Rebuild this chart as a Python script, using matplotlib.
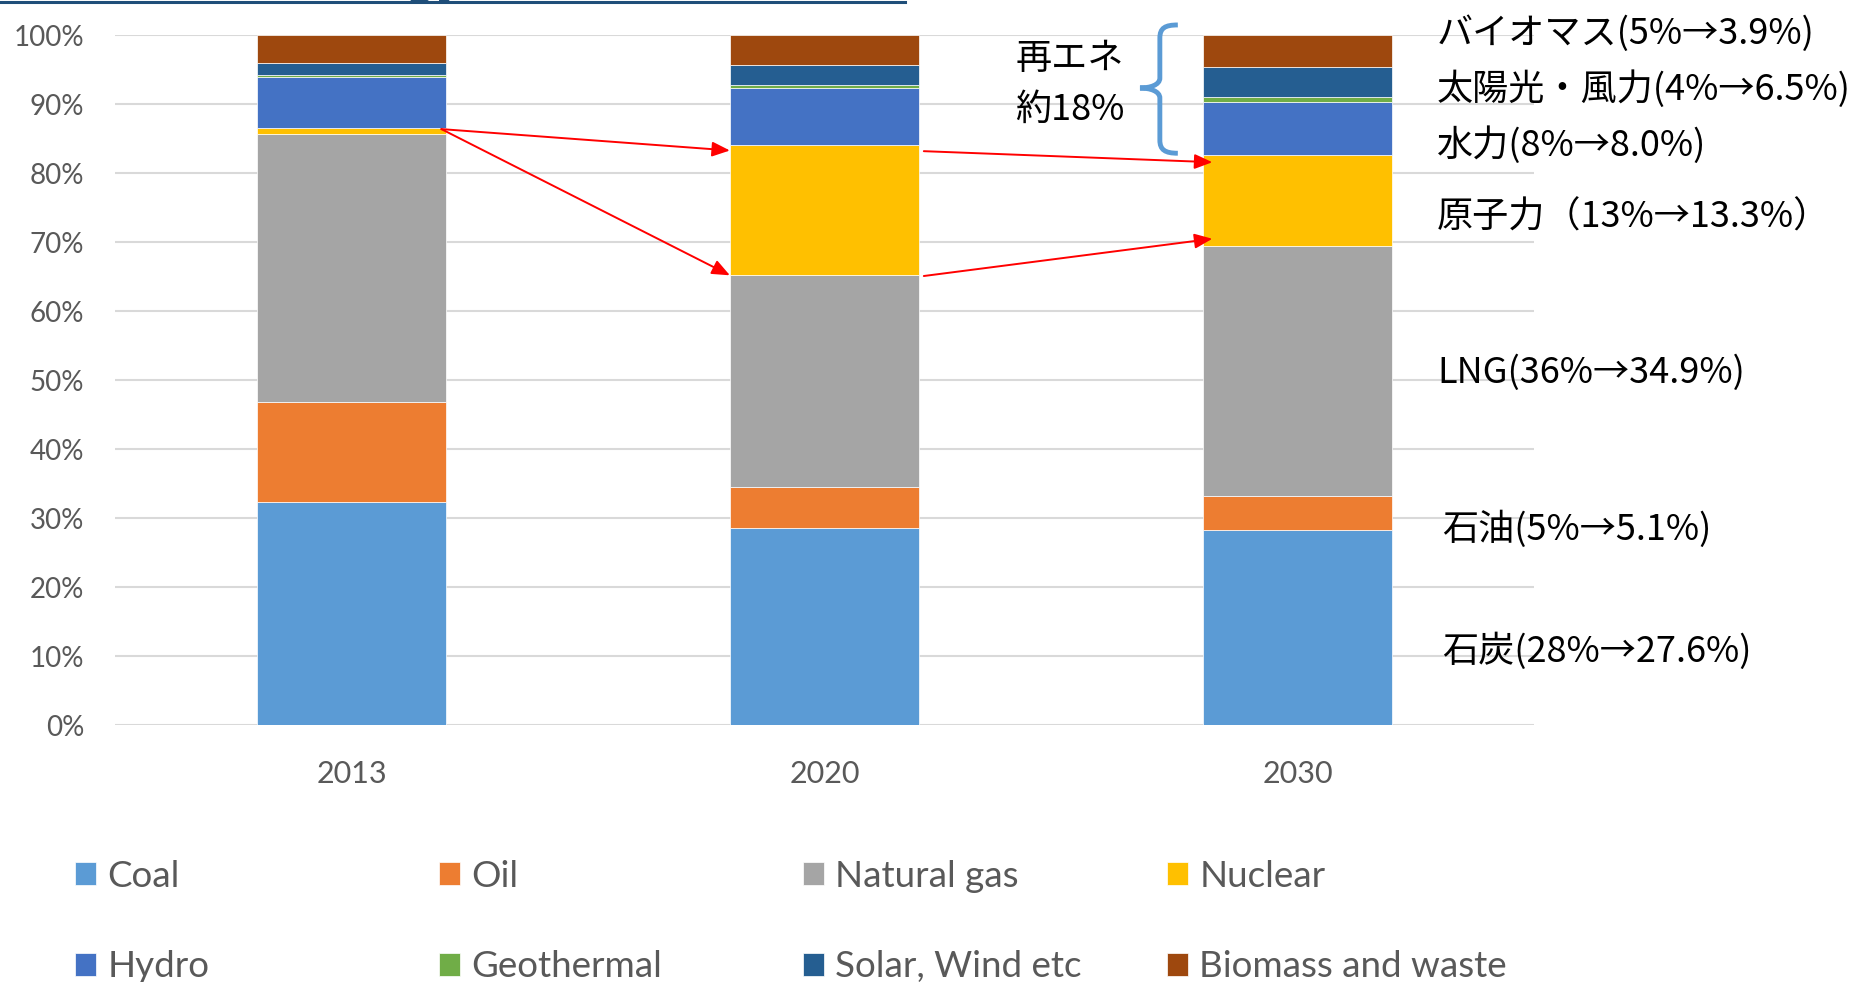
import numpy as np
import matplotlib.pyplot as plt
from matplotlib.path import Path
from matplotlib.patches import PathPatch
from matplotlib.lines import Line2D
from matplotlib.ticker import FuncFormatter

plt.rcParams['font.family'] = ['Lato', 'Noto Sans CJK JP', 'DejaVu Sans']

years = ['2013', '2020', '2030']
sources = ['Coal', 'Oil', 'Natural gas', 'Nuclear', 'Hydro',
           'Geothermal', 'Solar, Wind etc', 'Biomass and waste']
colors = ['#5B9BD5', '#ED7D31', '#A5A5A5', '#FFC000', '#4472C4',
          '#70AD47', '#255E91', '#9E480E']

# electricity mix (% of generation) for 2013 / 2020 / 2030
coal = [32.4, 28.5, 28.3]
oil = [14.5, 6.0, 4.9]
gas = [38.8, 30.7, 36.3]
nuclear = [0.9, 18.9, 13.1]
hydro = [7.3, 8.3, 7.8]
geothermal = [0.4, 0.4, 0.7]
solar_wind = [1.7, 2.9, 4.3]
biomass = [4.0, 4.3, 4.6]
series = [coal, oil, gas, nuclear, hydro, geothermal, solar_wind, biomass]

# notes on the right side (2013 share -> 2030 target)
notes = ['バイオマス(5%→3.9%)', '太陽光・風力(4%→6.5%)', '水力(8%→8.0%)',
         '原子力（13%→13.3%）', 'LNG(36%→34.9%)', '石油(5%→5.1%)',
         '石炭(28%→27.6%)']
note_y = [100.3, 92.15, 84.1, 73.6, 51.1, 28.35, 10.7]
note_x = [2.295, 2.295, 2.295, 2.295, 2.295, 2.306, 2.306]

# red arrows: (x0, y0) -> (x1, y1)
arrows = [((0.19, 86.4), (0.80, 83.3)),
          ((0.19, 86.4), (0.80, 65.2)),
          ((1.21, 83.2), (1.82, 81.6)),
          ((1.21, 65.1), (1.82, 70.5))]

fig = plt.figure(figsize=(18.5, 9.82), dpi=100)
ax = fig.add_axes([0.06216, 0.26171, 0.76703, 0.70234])

x = np.arange(len(years))
bottom = np.zeros(len(years))
for name, vals, c in zip(sources, series, colors):
    ax.bar(x, vals, 0.4, bottom=bottom, color=c, edgecolor='white',
           linewidth=0.5, label=name, zorder=2)
    bottom += np.array(vals)

ax.set_xlim(-0.5, 2.5)
ax.set_ylim(0, 100)
ax.set_yticks(range(0, 101, 10))
ax.yaxis.set_major_formatter(FuncFormatter(lambda v, p: f'{v:.0f}%'))
ax.set_xticks(x, years)
ax.grid(axis='y', color='#D9D9D9', lw=1.5, zorder=0)
ax.set_axisbelow(True)
for s in ax.spines.values():
    s.set_visible(False)
ax.tick_params(length=0)
ax.tick_params(axis='y', pad=22, labelsize=20, labelcolor='#595959')
ax.tick_params(axis='x', pad=25, labelsize=22, labelcolor='#595959')

for (x0, y0), (x1, y1) in arrows:
    ax.annotate('', xy=(x1, y1), xytext=(x0, y0),
                arrowprops=dict(arrowstyle='-|>,head_length=0.6,head_width=0.25',
                                color='red', lw=1.4, mutation_scale=18,
                                shrinkA=0, shrinkB=0),
                annotation_clip=False, zorder=5)

for txt, tx, ty in zip(notes, note_x, note_y):
    ax.text(tx, ty, txt, fontsize=26, family='Noto Sans CJK JP',
            va='center', ha='left', clip_on=False)

# renewables bracket
ax.text(1.403, 96.6, '再エネ', fontsize=26, family='Noto Sans CJK JP',
        va='center', ha='left', clip_on=False)
ax.text(1.403, 89.2, '約18%', fontsize=26, family='Noto Sans CJK JP',
        va='center', ha='left', clip_on=False)
verts = [(1.747, 101.5), (1.720, 101.5), (1.709, 101.06), (1.709, 99.6),
         (1.709, 93.8),
         (1.709, 92.8), (1.688, 92.36), (1.667, 92.36),
         (1.688, 92.36), (1.709, 91.9), (1.709, 90.9),
         (1.709, 84.8),
         (1.709, 83.4), (1.720, 82.9), (1.747, 82.9)]
codes = ([Path.MOVETO] + [Path.CURVE4] * 3 + [Path.LINETO] + [Path.CURVE4] * 6
         + [Path.LINETO] + [Path.CURVE4] * 3)
ax.add_patch(PathPatch(Path(verts, codes), fill=False, ec='#5B9BD5', lw=3.5,
                       capstyle='butt', clip_on=False, zorder=4))

# legend: four columns, two rows each
handles, labels = ax.get_legend_handles_labels()
col_x = [75, 439, 803, 1167]
for i, cx in enumerate(col_x):
    fig.legend([handles[i], handles[i + 4]], [labels[i], labels[i + 4]],
               loc='center left', bbox_to_anchor=(cx / 1850, 0.0617),
               frameon=False, fontsize=26.5, labelcolor='#595959',
               handlelength=0.57, handleheight=0.57, handletextpad=0.31,
               labelspacing=1.57, borderpad=0, borderaxespad=0)

# header rule and title remnant along the top edge
fig.add_artist(Line2D([0, 905 / 1850], [1 - 1.5 / 982] * 2, color='#1F4E79', lw=2.2))
fig.text(405 / 1850, 1 + 6 / 982, 'gy', fontsize=30, weight='bold',
         color='#1F4E79', family='DejaVu Sans', va='baseline')

fig.savefig('out.png', dpi=100)
